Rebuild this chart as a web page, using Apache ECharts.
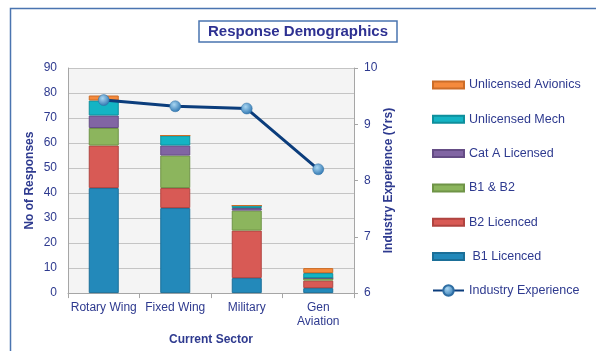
<!DOCTYPE html>
<html>
<head>
<meta charset="utf-8">
<script src="https://cdn.jsdelivr.net/npm/echarts@6/dist/echarts.min.js"></script>
<style>
html,body{margin:0;padding:0;background:#fff;}
#c{width:596px;height:351px;}
</style>
</head>
<body>
<div id="c"></div>
<script>
var categories = ['Rotary Wing', 'Fixed Wing', 'Military', 'Gen\nAviation'];
var b1Licenced = [42, 34, 6, 2];
var b2Licenced = [17, 8, 19, 3];
var b1b2 = [7, 13, 8, 1];
var catALicensed = [5, 4, 1, 0];
var unlicensedMech = [6, 4, 1, 2];
var unlicensedAvionics = [2, 0, 0, 2];
var industryExperience = [9.43, 9.32, 9.28, 8.2];
var leftTicks = [0, 90, 10];
var rightTicks = [6, 10, 1];

var txt = '#2e3a8f';
var font = "'Liberation Sans', Arial, sans-serif";

function bar(name, data, color, border) {
  return {
    name: name, type: 'bar', stack: 'total', data: data, barWidth: 30,
    itemStyle: { color: color, borderColor: border, borderWidth: 1 }
  };
}

var chart = echarts.init(document.getElementById('c'));
chart.setOption({
  animation: false,
  backgroundColor: '#ffffff',
  textStyle: { fontFamily: font },
  title: {
    text: 'Response Demographics',
    left: 'center', top: 21,
    padding: [3, 9, 3, 9],
    borderColor: '#4a74b0', borderWidth: 1.5,
    backgroundColor: '#ffffff',
    textStyle: { color: '#2e3192', fontSize: 15, fontWeight: 'bold', fontFamily: font }
  },
  graphic: [{
    type: 'polyline',
    shape: { points: [[10.5, 351], [10.5, 8.5], [596, 8.5]] },
    style: { stroke: '#4a74b0', lineWidth: 1.5, fill: null },
    silent: true
  }],
  grid: {
    left: 68, right: 242, top: 68, bottom: 54,
    show: true, backgroundColor: '#f4f4f4', borderWidth: 0
  },
  legend: [{
    orient: 'vertical', left: 427, top: 73,
    itemWidth: 31, itemHeight: 7, itemGap: 20.3,
    icon: 'rect',
    data: ['Unlicensed Avionics', 'Unlicensed Mech', 'Cat A Licensed', 'B1 & B2', 'B2 Licenced', ' B1 Licenced'],
    textStyle: { color: txt, fontSize: 12.5, lineHeight: 14, fontFamily: font },
    selectedMode: false
  }, {
    orient: 'vertical', left: 427, top: 279,
    itemWidth: 31, itemHeight: 13,
    data: ['Industry Experience'],
    textStyle: { color: txt, fontSize: 12.5, fontFamily: font },
    selectedMode: false
  }],
  xAxis: {
    type: 'category', data: categories,
    name: 'Current Sector', nameLocation: 'middle', nameGap: 35,
    nameTextStyle: { color: txt, fontSize: 12, fontWeight: 'bold', fontFamily: font },
    axisLine: { lineStyle: { color: '#a6a6a6', width: 1 } },
    axisTick: { show: true, length: 5, lineStyle: { color: '#a6a6a6' } },
    axisLabel: { interval: 0, color: txt, fontSize: 12, margin: 8, lineHeight: 14, fontFamily: font }
  },
  yAxis: [{
    type: 'value', min: leftTicks[0], max: leftTicks[1], interval: leftTicks[2],
    name: 'No of Responses', nameLocation: 'middle', nameGap: 32,
    nameTextStyle: { color: txt, fontSize: 12, fontWeight: 'bold', fontFamily: font },
    axisLine: { show: true, lineStyle: { color: '#a6a6a6' } },
    axisTick: { show: false },
    axisLabel: { color: txt, fontSize: 12, margin: 11, fontFamily: font },
    splitLine: { show: true, lineStyle: { color: '#c4c4c4', width: 1 } }
  }, {
    type: 'value', min: rightTicks[0], max: rightTicks[1], interval: rightTicks[2],
    position: 'right',
    name: 'Industry Experience (Yrs)', nameLocation: 'middle', nameGap: 29,
    nameTextStyle: { color: txt, fontSize: 12, fontWeight: 'bold', fontFamily: font },
    axisLine: { show: true, lineStyle: { color: '#a6a6a6' } },
    axisTick: { show: true, length: 4, lineStyle: { color: '#a6a6a6' } },
    axisLabel: { color: txt, fontSize: 12, margin: 10, fontFamily: font },
    splitLine: { show: false }
  }],
  series: [
    bar(' B1 Licenced', b1Licenced, '#2389ba', '#1b6f98'),
    bar('B2 Licenced', b2Licenced, '#d85a55', '#b04440'),
    bar('B1 & B2', b1b2, '#8cb55d', '#6f9447'),
    bar('Cat A Licensed', catALicensed, '#8165a3', '#654d85'),
    bar('Unlicensed Mech', unlicensedMech, '#14b4c4', '#0e8f9c'),
    bar('Unlicensed Avionics', unlicensedAvionics, '#f58a3c', '#cc6d28'),
    {
      name: 'Industry Experience', type: 'line', yAxisIndex: 1,
      data: industryExperience,
      symbol: 'circle', symbolSize: 11,
      lineStyle: { color: '#0b3d7c', width: 3 },
      itemStyle: {
        color: {
          type: 'radial', x: 0.4, y: 0.35, r: 0.6,
          colorStops: [{ offset: 0, color: '#a9d6f2' }, { offset: 1, color: '#3b80b8' }]
        },
        borderColor: '#2f6ea3', borderWidth: 0.5
      },
      z: 5
    }
  ]
});
</script>
</body>
</html>
